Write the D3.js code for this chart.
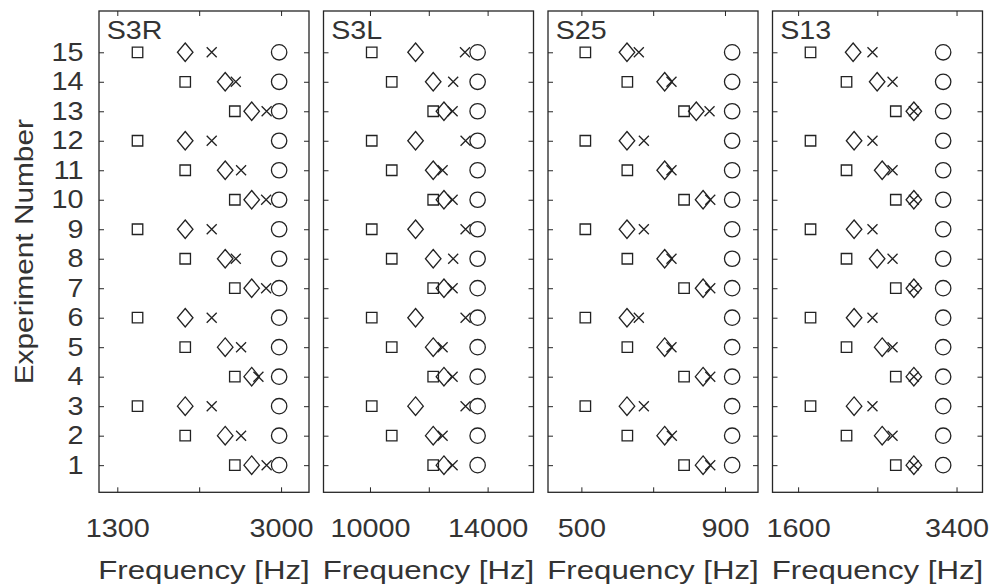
<!DOCTYPE html>
<html>
<head>
<meta charset="utf-8">
<script src="https://cdn.jsdelivr.net/npm/d3@7"></script>
<style>
  body { margin: 0; background: #fff; }
  svg text { font-family: "Liberation Sans", Arial, sans-serif; fill: #333; }
</style>
</head>
<body>
<svg id="chart" width="994" height="587"></svg>
<script>
// experiments on the y axis
const experiments = [1, 2, 3, 4, 5, 6, 7, 8, 9, 10, 11, 12, 13, 14, 15];
const panelNames = ['S3R', 'S3L', 'S25', 'S13'];
const xLimits = [[1110, 3290], [8420, 15560], [407, 992], [1309, 3695]];
const xTickValues = [[1300, 2150, 3000], [10000, 12000, 14000], [500, 700, 900], [1600, 2500, 3400]];
const xTickLabels = [['1300', '', '3000'], ['10000', '', '14000'], ['500', '', '900'], ['1600', '', '3400']];
const xLabel = 'Frequency [Hz]';
const yLabel = 'Experiment Number';

// frequencies per experiment (1..15), one array per panel
const squareHz = [
  [2520, 2005, 1510, 2520, 2005, 1510, 2520, 2005, 1510, 2520, 2005, 1510, 2520, 2005, 1510],
  [12150, 10740, 10060, 12150, 10740, 10060, 12150, 10740, 10060, 12150, 10740, 10060, 12150, 10740, 10060],
  [786, 628, 511, 786, 628, 511, 786, 628, 511, 786, 628, 511, 786, 628, 511],
  [2710, 2150, 1741, 2710, 2150, 1741, 2710, 2150, 1741, 2710, 2150, 1741, 2710, 2150, 1741]
];
const diamondHz = [
  [2695, 2420, 2005, 2695, 2420, 2005, 2695, 2420, 2005, 2695, 2420, 2005, 2695, 2420, 2005],
  [12515, 12150, 11550, 12515, 12150, 11550, 12515, 12150, 11550, 12515, 12150, 11550, 12515, 12150, 11550],
  [839, 732, 627, 839, 732, 627, 839, 732, 627, 839, 732, 627, 820, 732, 627],
  [2915, 2555, 2236, 2915, 2555, 2236, 2915, 2498, 2236, 2915, 2555, 2236, 2915, 2498, 2225]
];
const crossHz = [
  [2850, 2585, 2280, 2765, 2585, 2280, 2845, 2530, 2280, 2845, 2585, 2280, 2850, 2530, 2280],
  [12810, 12470, 13250, 12810, 12470, 13250, 12810, 12830, 13250, 12810, 12470, 13250, 12810, 12830, 13230],
  [859, 752, 674, 859, 751, 660, 859, 751, 674, 859, 751, 674, 857, 751, 660],
  [2915, 2673, 2445, 2915, 2673, 2445, 2915, 2673, 2445, 2915, 2673, 2445, 2915, 2673, 2445]
];
const circleHz = [
  [2980, 2980, 2980, 2980, 2980, 2980, 2980, 2980, 2980, 2980, 2980, 2980, 2980, 2980, 2980],
  [13660, 13660, 13660, 13660, 13660, 13660, 13660, 13660, 13660, 13660, 13660, 13660, 13660, 13660, 13660],
  [920, 920, 920, 920, 920, 920, 920, 920, 920, 920, 920, 920, 920, 920, 920],
  [3248, 3248, 3248, 3248, 3248, 3248, 3248, 3248, 3248, 3248, 3248, 3248, 3248, 3248, 3248]
];

const left0 = 99, pitch = 224.5, panelW = 210;
const plotTop = 11, plotBottom = 492.3;
const axisColor = '#262626';
const fontSize = 25.5;
const stretch = 'scale(1.13,1)';
const labelStretch = 'scale(1.2,1)';

// marker shapes, size = full extent in px
const shapes = {
  square: { draw(ctx, s) { const h = s / 2; ctx.rect(-h, -h, s, s); } },
  diamond: { draw(ctx, s) {
    const h = s / 2, w = h * 0.84;
    ctx.moveTo(0, -h); ctx.lineTo(w, 0); ctx.lineTo(0, h); ctx.lineTo(-w, 0); ctx.closePath();
  } },
  cross: { draw(ctx, s) {
    const h = s / 2;
    ctx.moveTo(-h, -h); ctx.lineTo(h, h); ctx.moveTo(h, -h); ctx.lineTo(-h, h);
  } },
  circle: { draw(ctx, s) { const r = s / 2; ctx.moveTo(r, 0); ctx.arc(0, 0, r, 0, 2 * Math.PI); } }
};
const series = [
  { data: squareHz, shape: shapes.square, size: 10.5 },
  { data: diamondHz, shape: shapes.diamond, size: 18.5 },
  { data: crossHz, shape: shapes.cross, size: 10 },
  { data: circleHz, shape: shapes.circle, size: 15.4 }
];

const svg = d3.select('#chart');

const y = d3.scaleLinear().domain([0.08, 16.4]).range([plotBottom, plotTop]);

panelNames.forEach((name, p) => {
  const g = svg.append('g')
    .attr('transform', 'translate(' + (left0 + p * pitch) + ',0)');

  const x = d3.scaleLinear().domain(xLimits[p]).range([0, panelW]);

  // bottom axis with inward ticks
  const bx = g.append('g')
    .attr('transform', 'translate(0,' + plotBottom + ')')
    .attr('color', axisColor)
    .call(d3.axisBottom(x).tickValues(xTickValues[p])
      .tickFormat((d, i) => xTickLabels[p][i]).tickSize(-5).tickPadding(27));
  bx.select('.domain').remove();
  bx.selectAll('text').attr('font-size', fontSize).attr('font-family', null)
    .attr('transform', stretch);

  // top axis
  const tx = g.append('g')
    .attr('transform', 'translate(0,' + plotTop + ')')
    .attr('color', axisColor)
    .call(d3.axisTop(x).tickValues(xTickValues[p]).tickFormat('').tickSize(-5));
  tx.select('.domain').remove();

  // left axis, labels only on first panel
  const ly = g.append('g')
    .attr('color', axisColor)
    .call(d3.axisLeft(y).tickValues(experiments)
      .tickFormat(p === 0 ? d3.format('d') : '').tickSize(-5).tickPadding(15.5));
  ly.select('.domain').remove();
  ly.selectAll('text').attr('font-size', fontSize).attr('font-family', null)
    .attr('x', 0).attr('transform', 'translate(-15.5,0) ' + stretch);

  // right axis
  const ry = g.append('g')
    .attr('transform', 'translate(' + panelW + ',0)')
    .attr('color', axisColor)
    .call(d3.axisRight(y).tickValues(experiments).tickFormat('').tickSize(-5));
  ry.select('.domain').remove();

  // box
  g.append('rect')
    .attr('x', 0).attr('y', plotTop)
    .attr('width', panelW).attr('height', plotBottom - plotTop)
    .attr('fill', 'none').attr('stroke', axisColor).attr('stroke-width', 1.3);

  // markers
  series.forEach(s => {
    g.append('g').selectAll('path')
      .data(experiments)
      .enter()
      .append('path')
      .attr('d', d3.symbol().type(s.shape).size(s.size))
      .attr('transform', (d, i) => 'translate(' + x(s.data[p][i]) + ',' + y(d) + ')')
      .attr('fill', 'none')
      .attr('stroke', '#222')
      .attr('stroke-width', 1.3);
  });

  // panel title
  g.append('text')
    .attr('transform', 'translate(7.7,39.3) scale(1.08,1)')
    .attr('font-size', 26.5)
    .text(name);

  // x label
  g.append('text')
    .attr('transform', 'translate(' + (panelW / 2) + ',579) ' + labelStretch)
    .attr('text-anchor', 'middle')
    .attr('font-size', 26)
    .text(xLabel);
});

// y label
svg.append('text')
  .attr('transform', 'translate(33.3,' + ((plotTop + plotBottom) / 2) + ') rotate(-90) scale(1.17,1)')
  .attr('text-anchor', 'middle')
  .attr('font-size', fontSize)
  .text(yLabel);
</script>
</body>
</html>
